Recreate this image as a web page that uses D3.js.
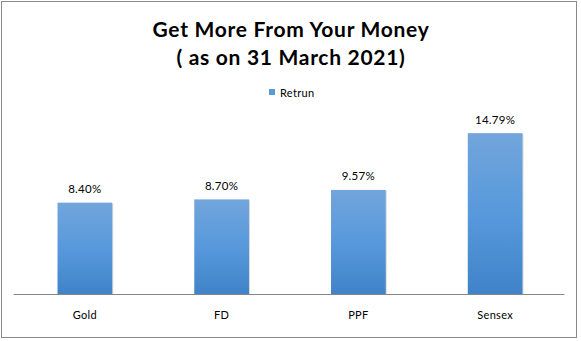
<!DOCTYPE html>
<html>
<head>
<meta charset="utf-8">
<script src="https://cdn.jsdelivr.net/npm/d3@7"></script>
<style>
  body { margin: 0; background: #fff; }
  text { font-family: Lato, "Open Sans", sans-serif; fill: #000; }
</style>
</head>
<body>
<div id="chart"></div>
<script>
// chart data
var categories = ["Gold", "FD", "PPF", "Sensex"];
var returns = [8.40, 8.70, 9.57, 14.79];
var valueLabels = ["8.40%", "8.70%", "9.57%", "14.79%"];
var seriesName = "Retrun";
var titleLines = ["Get More From Your Money", "( as on 31 March 2021)"];

var svgWidth = 581;
var svgHeight = 341;

var svg = d3.select("#chart")
  .append("svg")
  .attr("width", svgWidth)
  .attr("height", svgHeight);

// gradient for the bars
var defs = svg.append("defs");
var grad = defs.append("linearGradient")
  .attr("id", "barGrad")
  .attr("x1", 0).attr("y1", 0).attr("x2", 0).attr("y2", 1);
grad.append("stop").attr("offset", "0%").attr("stop-color", "#72a5db");
grad.append("stop").attr("offset", "50%").attr("stop-color", "#5799dc");
grad.append("stop").attr("offset", "100%").attr("stop-color", "#4183c8");

// outer frame
svg.append("rect")
  .attr("x", 1.5).attr("y", 1.5)
  .attr("width", 575).attr("height", 336)
  .attr("fill", "#fff")
  .attr("stroke", "#8a8a8a")
  .attr("stroke-width", 1);

// title
var titleY = [37, 65];
titleLines.forEach(function (line, i) {
  svg.append("text")
    .attr("x", 291)
    .attr("y", titleY[i])
    .attr("text-anchor", "middle")
    .style("font-size", "21px")
    .style("font-weight", "bold")
    .style("letter-spacing", "0.7px")
    .text(line);
});

// legend
svg.append("rect")
  .attr("x", 269).attr("y", 89)
  .attr("width", 6).attr("height", 6)
  .attr("fill", "#5b9bd5");
svg.append("text")
  .attr("x", 280).attr("y", 96.5)
  .style("font-size", "11px")
  .style("letter-spacing", "0.3px")
  .text(seriesName);

// scales
var plot = { left: 16.5, right: 563.5, top: 120, bottom: 294 };

var x = d3.scaleBand()
  .domain(categories)
  .range([plot.left, plot.right])
  .paddingInner(0.6)
  .paddingOuter(0.3);

var y = d3.scaleLinear()
  .domain([0, 16])
  .range([plot.bottom, plot.top]);

var data = categories.map(function (c, i) {
  return { cat: c, value: returns[i], label: valueLabels[i] };
});

// bar shadow
svg.append("g").selectAll("rect")
  .data(data)
  .enter().append("rect")
  .attr("x", d => x(d.cat) + 1)
  .attr("y", d => y(d.value) + 1)
  .attr("width", x.bandwidth())
  .attr("height", d => plot.bottom - y(d.value) - 1)
  .attr("fill", "#d8d8d8");

svg.append("g").selectAll("rect")
  .data(data)
  .enter().append("rect")
  .attr("x", d => x(d.cat))
  .attr("y", d => y(d.value))
  .attr("width", x.bandwidth())
  .attr("height", d => plot.bottom - y(d.value))
  .attr("fill", "url(#barGrad)");

// value labels
svg.append("g").selectAll("text")
  .data(data)
  .enter().append("text")
  .attr("x", d => x(d.cat) + x.bandwidth() / 2)
  .attr("y", d => y(d.value) - 9.5)
  .attr("text-anchor", "middle")
  .style("font-size", "11.5px")
  .style("letter-spacing", "0.3px")
  .text(d => d.label);

// x axis
var xAxis = svg.append("g")
  .attr("transform", `translate(0, ${plot.bottom})`)
  .call(d3.axisBottom(x).tickSize(0).tickPadding(17));
xAxis.select(".domain")
  .attr("stroke", "#868686")
  .attr("d", `M${plot.left - 3},0.5H${plot.right + 1}`);
xAxis.selectAll("text")
  .style("font-family", "Lato, sans-serif")
  .style("font-size", "11px")
  .style("letter-spacing", "0.3px")
  .attr("fill", "#000");
</script>
</body>
</html>
